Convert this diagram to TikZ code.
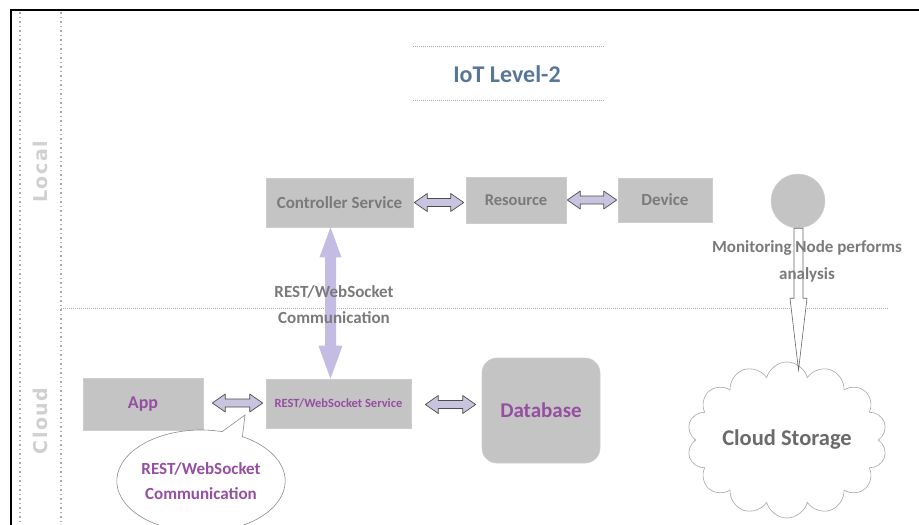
\documentclass[tikz,border=0pt]{standalone}
\usepackage{fontspec}
\setmainfont{Carlito}
\newfontfamily\sidefont[LetterSpace=8]{DejaVu Sans Bold}
\usetikzlibrary{shapes.symbols,shapes.callouts,calc}
\definecolor{boxfill}{RGB}{196,196,196}
\definecolor{boxtext}{RGB}{122,122,122}
\definecolor{purp}{RGB}{150,78,162}
\definecolor{lav}{RGB}{200,196,224}
\definecolor{lavv}{RGB}{196,188,226}
\definecolor{titleblue}{RGB}{88,118,150}
\definecolor{dotgray}{RGB}{170,170,170}
\definecolor{sidegray}{RGB}{208,208,208}
\newcommand{\hdbl}[2]{%
  \path[dblarrow] let \p1=#1, \p2=#2 in
   (\x1,\y1) -- (\x1+13pt,\y1+9pt) -- (\x1+13pt,\y1+4pt) -- (\x2-13pt,\y1+4pt)
   -- (\x2-13pt,\y1+9pt) -- (\x2,\y1) -- (\x2-13pt,\y1-9pt) -- (\x2-13pt,\y1-4pt)
   -- (\x1+13pt,\y1-4pt) -- (\x1+13pt,\y1-9pt) -- cycle;}
\begin{document}
\begin{tikzpicture}[x=1pt,y=-1pt,
  box/.style={draw=boxfill!85!white, line width=0.6pt, fill=boxfill, inner sep=0pt,
    font=\bfseries\fontsize{17}{19}\selectfont, text=boxtext},
  dblarrow/.style={draw=black!70, line width=0.7pt, fill=lav, line join=round},
  dotline/.style={draw=dotgray, line width=1pt, dash pattern=on 0.8pt off 1.2pt},
  vdot/.style={draw=dotgray, line width=1.5pt, dash pattern=on 1.5pt off 3pt},
  graytext/.style={text=boxtext, font=\bfseries\fontsize{17}{26}\selectfont, align=center}
]
\useasboundingbox (0,0) rectangle (919,525);
\clip (0,0) rectangle (919,525);
\fill[white] (0,0) rectangle (919,525);

% frame
\draw[black, line width=2.4pt] (11,525) -- (11,10) -- (919,10);

% swimlane lines
\draw[vdot] (20,12) -- (20,525);
\draw[vdot] (61,12) -- (61,525);
\draw[dotline] (61,308) -- (888,308);
\node[rotate=90, text=sidegray, font=\sidefont\fontsize{19}{22}\selectfont] (local) at (40,172) {Local};
\node[rotate=90, text=sidegray, font=\sidefont\fontsize{19}{22}\selectfont] (cloudlbl) at (40,421) {Cloud};

% title
\node[text=titleblue, font=\bfseries\fontsize{24}{27}\selectfont] (title) at (507,74) {IoT Level-2};
\draw[dotline] (413,46) -- (605,46);
\draw[dotline] (413,100) -- (605,100);

% local nodes
\node[box, minimum width=147, minimum height=49] (cs) at (339.5,202.5) {Controller Service};
\node[box, minimum width=100, minimum height=46, font=\bfseries\fontsize{16.5}{18}\selectfont] (res) at (516,200) {Resource};
\node[box, minimum width=94, minimum height=44, font=\bfseries\fontsize{17}{19}\selectfont] (dev) at (665,200) {Device};
\node[circle, fill=boxfill, draw=boxfill!85!white, minimum size=54, inner sep=0pt] (mon) at (798,201) {};

% cloud nodes
\node[box, minimum width=120, minimum height=52, text=purp, font=\bfseries\fontsize{18}{20}\selectfont] (app) at (143,404) {App};
\node[box, minimum width=145, minimum height=49, text=purp, font=\bfseries\fontsize{12.5}{14}\selectfont] (svc) at (338.5,403.5) {REST/WebSocket Service};
\node[box, rounded corners=15pt, minimum width=118, minimum height=105, text=purp, font=\bfseries\fontsize{21}{23}\selectfont] (db) at (541,410.5) {Database};
\node[cloud, cloud puffs=14, cloud ignores aspect, draw=black!35, line width=0.6pt, fill=white,
  minimum width=200, minimum height=156, text=black!58, font=\bfseries\fontsize{22.5}{25}\selectfont] (cstore) at (787,440) {Cloud Storage};

% horizontal double arrows
\hdbl{($(cs.east)+(1,0)$)}{($(res.west)+(-2,0)$)}
\hdbl{($(res.east)+(1,0)$)}{($(dev.west)+(-1,0)$)}
\hdbl{($(app.east)+(9,-1)$)}{($(svc.west)+(-3,-1)$)}
\hdbl{($(svc.east)+(14,1)$)}{($(db.west)+(-6,-5)$)}

% vertical arrow controller <-> service
\path[fill=lavv] let \p1=($(cs.south)+(-9,0)$), \p2=($(svc.north)+(-9,0)$) in
  (\x1,\y1) -- (\x1+11pt,\y1-30pt) -- (\x1+5.5pt,\y1-30pt) -- (\x1+5.5pt,\y2+33pt)
  -- (\x1+12pt,\y2+33pt) -- (\x1,\y2) -- (\x1-12pt,\y2+33pt) -- (\x1-5.5pt,\y2+33pt)
  -- (\x1-5.5pt,\y1-30pt) -- (\x1-11pt,\y1-30pt) -- cycle;
\node[graytext] (comm) at (334,305) {REST/WebSocket\\Communication};

% monitoring arrow to cloud storage
\coordinate (tip) at (798.5,370);
\path[draw=black!60, line width=0.6pt, fill=white] let \p1=(mon.south), \p2=(tip) in
  (\x2-4.5pt,\y1) -- (\x2-4.5pt,\y1-70pt) -- (\x2-8.5pt,\y1-70pt) -- (\x2,\y2)
  -- (\x2+8.5pt,\y1-70pt) -- (\x2+4.5pt,\y1-70pt) -- (\x2+4.5pt,\y1) -- cycle;
\node[graytext, font=\bfseries\fontsize{17}{27}\selectfont] (monlbl) at (807,261) {Monitoring Node performs\\analysis};

% speech bubble
\coordinate (bubtip) at (245,415);
\node[ellipse callout, callout absolute pointer={(bubtip)}, draw=black!45, line width=0.6pt, fill=white,
  minimum width=146, minimum height=102, inner sep=0pt, align=center, text=purp,
  font=\bfseries\fontsize{17}{25}\selectfont] (bubble) at (201,481) {REST/WebSocket\\Communication};
\end{tikzpicture}
\end{document}
